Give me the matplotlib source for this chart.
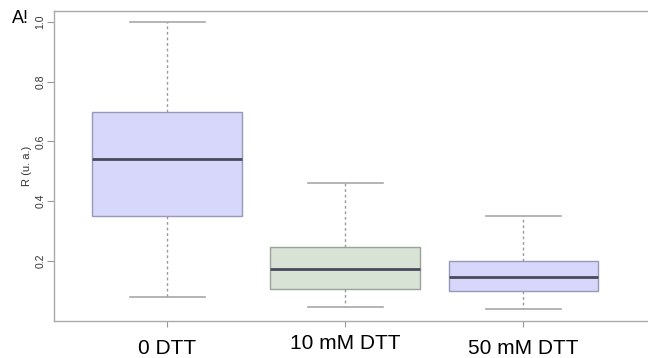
import matplotlib
matplotlib.use("Agg")
import matplotlib.pyplot as plt
import matplotlib.transforms as mtransforms

plt.rcParams['font.family'] = ['Liberation Sans', 'DejaVu Sans']

# box statistics
groups = ["0 DTT", "10 mM DTT", "50 mM DTT"]
whislo = [0.08, 0.046, 0.039]
q1 = [0.35, 0.107, 0.10]
med = [0.54, 0.175, 0.148]
q3 = [0.70, 0.248, 0.20]
whishi = [1.0, 0.46, 0.35]
fills = ["#d7d7fb", "#d8e3d6", "#d7d7fb"]
label_baselines_px = [354, 349, 354]  # the labels sit at slightly different heights

stats = []
for i in range(len(groups)):
    stats.append({"whislo": whislo[i], "q1": q1[i], "med": med[i],
                  "q3": q3[i], "whishi": whishi[i], "fliers": []})

fig = plt.figure(figsize=(6.48, 3.58), dpi=100)
ax = fig.add_axes([54/648, 37/358, 1 - 54/648, 310/358])

bp = ax.bxp(stats, positions=[1, 2, 3], widths=0.84, capwidths=0.42,
            showfliers=False, patch_artist=True,
            boxprops=dict(edgecolor="#9898b8", linewidth=1.0),
            medianprops=dict(color="#4a4a5a", linewidth=2.0),
            whiskerprops=dict(color="#9a9a9a", linewidth=1.0, linestyle=(0, (2, 2))),
            capprops=dict(color="#a8a8a8", linewidth=1.2))
for patch, c in zip(bp["boxes"], fills):
    patch.set_facecolor(c)
bp["boxes"][1].set_edgecolor("#9aa39a")

ax.set_xlim(0.365, 3.70)
ax.set_ylim(0, 1.036)
ax.set_yticks([0.2, 0.4, 0.6, 0.8, 1.0])
ax.set_yticklabels(["0.2", "0.4", "0.6", "0.8", "1.0"], rotation=90, va="center",
                   fontsize=7.5, color="#333333")
ax.set_xticks([1, 2, 3])
ax.set_xticklabels([])
ax.tick_params(axis="y", length=5, color="#999999", pad=1)
ax.tick_params(axis="x", length=4, color="#999999")
ax.set_ylabel("R (u. a.)", fontsize=8, color="#333333", labelpad=3)

for side in ["left", "top", "bottom"]:
    ax.spines[side].set_color("#aaaaaa")
    ax.spines[side].set_linewidth(1.0)
ax.spines["right"].set_visible(False)

trans = mtransforms.blended_transform_factory(ax.transData, fig.transFigure)
for i, g in enumerate(groups):
    ax.text(i + 1, (358 - label_baselines_px[i]) / 358, g, transform=trans,
            ha="center", va="baseline", fontsize=15, color="black")

fig.text(12/648, (358 - 23) / 358, "A!", fontsize=13, va="baseline", color="black")

fig.savefig("out.png", dpi=100)
